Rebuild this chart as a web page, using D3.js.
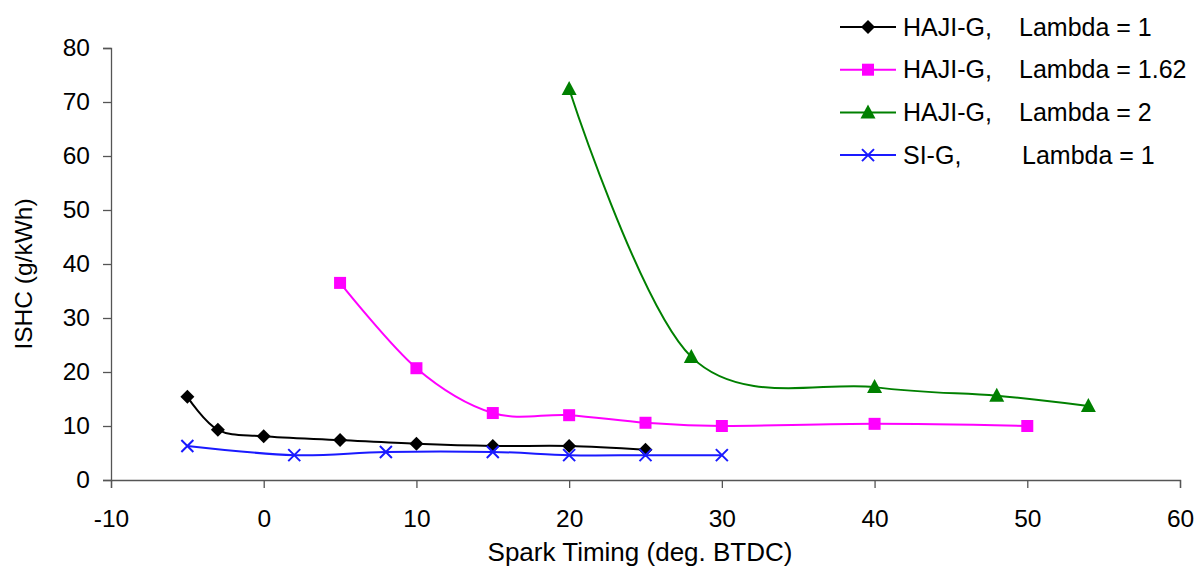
<!DOCTYPE html>
<html>
<head>
<meta charset="utf-8">
<script src="https://cdn.jsdelivr.net/npm/d3@7"></script>
<style>
  body { margin: 0; background: #fff; }
  text { font-family: "Liberation Sans", Arial, sans-serif; fill: #000; }
</style>
</head>
<body>
<div id="content"></div>
<script>
// data
const hajiL1X = [-5, -3, 0, 5, 10, 15, 20, 25]
const hajiL1Y = [15.4, 9.3, 8.1, 7.4, 6.7, 6.3, 6.3, 5.6]

const hajiL162X = [5, 10, 15, 20, 25, 30, 40, 50]
const hajiL162Y = [36.5, 20.7, 12.4, 12.0, 10.6, 10.0, 10.4, 10.0]

const hajiL2X = [20, 28, 40, 48, 54]
const hajiL2Y = [72.4, 22.8, 17.2, 15.6, 13.7]

const siL1X = [-5, 2, 8, 15, 20, 25, 30]
const siL1Y = [6.3, 4.6, 5.2, 5.2, 4.6, 4.6, 4.6]

const xTicks = [-10, 0, 10, 20, 30, 40, 50, 60]
const yTicks = [0, 10, 20, 30, 40, 50, 60, 70, 80]

const seriesNames = ["HAJI-G,", "HAJI-G,", "HAJI-G,", "SI-G,"]
const seriesLambdas = ["Lambda = 1", "Lambda = 1.62", "Lambda = 2", "Lambda = 1"]

const series = [
    {x: hajiL1X, y: hajiL1Y, color: "#000000", marker: "diamond"},
    {x: hajiL162X, y: hajiL162Y, color: "#ff00ff", marker: "square"},
    {x: hajiL2X, y: hajiL2Y, color: "#008000", marker: "triangle"},
    {x: siL1X, y: siL1Y, color: "#1a1aff", marker: "cross"},
].map((s, i) => Object.assign(s, {
    name: seriesNames[i],
    lambda: seriesLambdas[i],
    points: s.x.map((x, j) => ({x: x, y: s.y[j]})),
}))

const outerWidth = 1199
const outerHeight = 568
const margin = {top: 48, right: 19, bottom: 88, left: 111}
const width = outerWidth - margin.left - margin.right
const height = outerHeight - margin.top - margin.bottom

const svg = d3.select("#content").append("svg")
    .attr("width", outerWidth)
    .attr("height", outerHeight)

const wrapper = svg.append("g")
    .attr("transform", `translate(${margin.left}, ${margin.top})`)

// scales
const xScale = d3.scaleLinear()
    .domain([-10, 60])
    .range([0, width])
const yScale = d3.scaleLinear()
    .domain([0, 80])
    .range([height, 0])

// axes
const xAxis = d3.axisBottom(xScale)
    .tickValues(xTicks)
    .tickFormat(d => String(d))
    .tickSize(8)
    .tickPadding(22)
const xG = wrapper.append("g")
    .attr("transform", `translate(0, ${height})`)
    .call(xAxis)

const yAxis = d3.axisLeft(yScale)
    .tickValues(yTicks)
    .tickSize(8)
    .tickPadding(13)
const yG = wrapper.append("g")
    .call(yAxis)

wrapper.selectAll(".domain").attr("stroke", "#555").attr("stroke-width", 1.3)
wrapper.selectAll(".tick line").attr("stroke", "#555").attr("stroke-width", 1.3)
wrapper.selectAll(".tick text")
    .style("font-size", "24.5px")
    .style("font-family", "Liberation Sans, Arial, sans-serif")
    .attr("fill", "#000")
xG.selectAll(".tick text").attr("dy", "0.71em")

// axis titles
wrapper.append("text")
    .attr("x", 529)
    .attr("y", height + 81)
    .style("text-anchor", "middle")
    .style("font-size", "26px")
    .text("Spark Timing (deg. BTDC)")

wrapper.append("text")
    .attr("transform", "rotate(-90)")
    .attr("x", -(274 - margin.top))
    .attr("y", -88)
    .attr("dy", "0.35em")
    .style("text-anchor", "middle")
    .style("font-size", "24.5px")
    .text("ISHC (g/kWh)")

// markers
function drawMarker(g, type, color) {
    if (type === "diamond") {
        g.append("path").attr("d", "M0,-7L7,0L0,7L-7,0Z").attr("fill", color)
    } else if (type === "square") {
        g.append("rect").attr("x", -6).attr("y", -6).attr("width", 12).attr("height", 12).attr("fill", color)
    } else if (type === "triangle") {
        g.append("path").attr("d", "M0,-8L7.5,6L-7.5,6Z").attr("fill", color)
    } else {
        g.append("path").attr("d", "M-6,-6L6,6M-6,6L6,-6")
            .attr("stroke", color).attr("stroke-width", 2).attr("fill", "none")
    }
}

// smoothed lines like the spreadsheet's
const line = d3.line()
    .x(d => xScale(d.x))
    .y(d => yScale(d.y))
    .curve(d3.curveCatmullRom.alpha(0))

series.forEach(s => {
    wrapper.append("path")
        .datum(s.points)
        .attr("d", line)
        .attr("fill", "none")
        .attr("stroke", s.color)
        .attr("stroke-width", 2)

    s.points.forEach(p => {
        const g = wrapper.append("g")
            .attr("transform", `translate(${xScale(p.x)}, ${yScale(p.y)})`)
        drawMarker(g, s.marker, s.color)
    })
})

// legend
const legend = svg.append("g")
    .attr("transform", "translate(840, 27)")

series.forEach((s, i) => {
    const row = legend.append("g")
        .attr("transform", `translate(0, ${i * 42.7})`)
    row.append("line")
        .attr("x1", 0).attr("x2", 56)
        .attr("stroke", s.color).attr("stroke-width", 2)
    drawMarker(row.append("g").attr("transform", "translate(28, 0)"), s.marker, s.color)
    row.append("text")
        .attr("x", 63)
        .attr("dy", "0.35em")
        .style("font-size", "25px")
        .text(s.name)
    row.append("text")
        .attr("x", s.name === "SI-G," ? 182 : 179)
        .attr("dy", "0.35em")
        .style("font-size", "25px")
        .text(s.lambda)
})
</script>
</body>
</html>
